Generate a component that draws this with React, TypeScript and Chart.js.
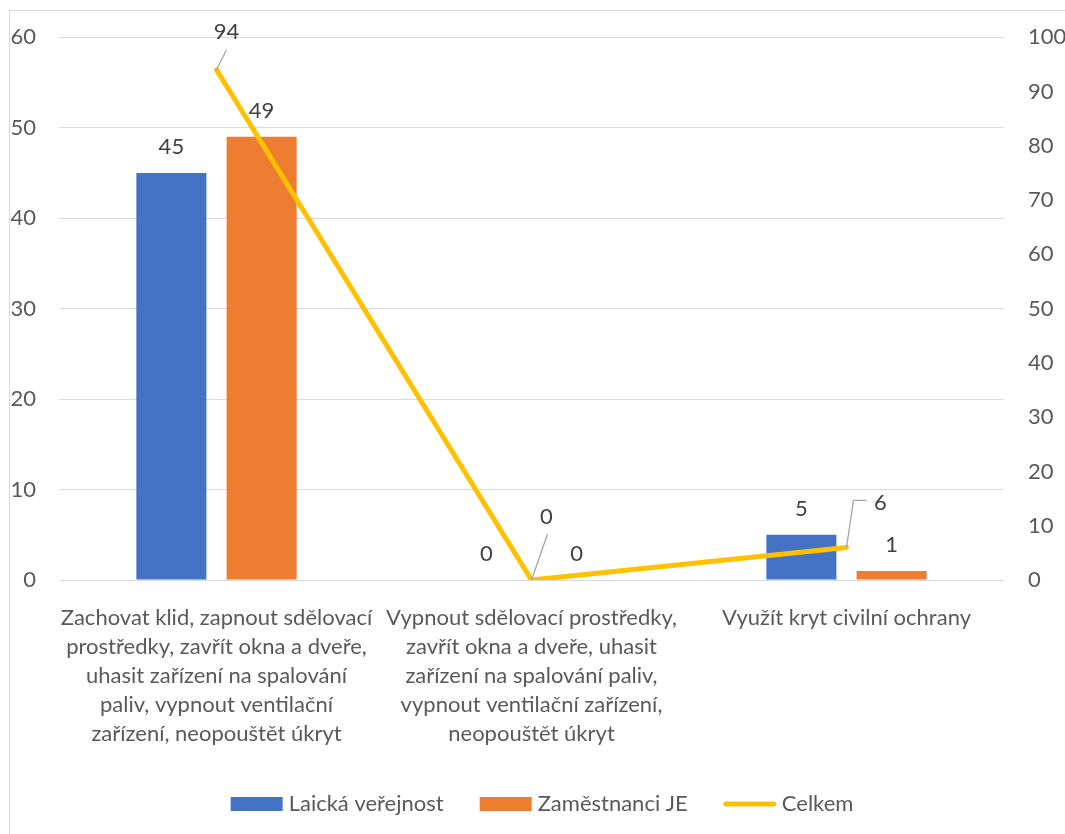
import React, { useEffect, useRef } from "react";
import { Chart, registerables } from "chart.js";

Chart.register(...registerables);

// Category labels (pre-wrapped lines)
const categories: string[][] = [
  [
    "Zachovat klid, zapnout sdělovací",
    "prostředky, zavřít okna a dveře,",
    "uhasit zařízení na spalování",
    "paliv, vypnout ventilační",
    "zařízení, neopouštět úkryt",
  ],
  [
    "Vypnout sdělovací prostředky,",
    "zavřít okna a dveře, uhasit",
    "zařízení na spalování paliv,",
    "vypnout ventilační zařízení,",
    "neopouštět úkryt",
  ],
  ["Využít kryt civilní ochrany"],
];

// Series values
const laickaVerejnost = [45, 0, 5];
const zamestnanciJE = [49, 0, 1];
const celkem = [94, 0, 6];

// Axis ranges
const leftAxisMax = 60;
const rightAxisMax = 100;
const axisStep = 10;

const FONT = "Lato";
const TEXT = "#595959";
const LABEL_TEXT = "#404040";
const GRID = "#d9d9d9";

// Callout placement for the line's value labels (offsets from the point)
const lineCallouts = [
  { dx: 10, dy: -38, leader: [[10, -20]] },
  { dx: 15, dy: -63, leader: [[16, -46]] },
  { dx: 34, dy: -45, leader: [[7, -47], [20, -47]] },
];

const framePlugin = {
  id: "frame",
  beforeDraw(chart: any) {
    const ctx = chart.ctx;
    ctx.save();
    ctx.strokeStyle = GRID;
    ctx.lineWidth = 1;
    ctx.strokeRect(9.5, 10.5, 2000, 2000);
    ctx.restore();
  },
};

const valueLabelsPlugin = {
  id: "valueLabels",
  afterDatasetsDraw(chart: any) {
    const ctx = chart.ctx;
    ctx.save();
    ctx.font = `22px ${FONT}`;
    ctx.textAlign = "center";
    ctx.textBaseline = "middle";
    chart.data.datasets.forEach((ds: any, di: number) => {
      const meta = chart.getDatasetMeta(di);
      meta.data.forEach((el: any, i: number) => {
        const v = ds.data[i];
        if (meta.type === "bar") {
          ctx.fillStyle = LABEL_TEXT;
          ctx.fillText(String(v), el.x, el.y - 26);
        } else {
          const c = lineCallouts[i];
          ctx.strokeStyle = "#a6a6a6";
          ctx.lineWidth = 1.3;
          ctx.beginPath();
          ctx.moveTo(el.x, el.y);
          c.leader.forEach(([dx, dy]) => ctx.lineTo(el.x + dx, el.y + dy));
          ctx.stroke();
          ctx.fillStyle = LABEL_TEXT;
          ctx.fillText(String(v), el.x + c.dx, el.y + c.dy);
        }
      });
    });
    ctx.restore();
  },
};

const legendPlugin = {
  id: "bottomLegend",
  afterDraw(chart: any) {
    const ctx = chart.ctx;
    ctx.save();
    ctx.font = `22px ${FONT}`;
    ctx.textBaseline = "middle";
    ctx.textAlign = "left";
    const swatch = 52;
    const gap = 6;
    const spacing = 36;
    const items = chart.data.datasets.map((ds: any) => ({
      label: ds.label as string,
      line: ds.type === "line",
      color: ds.type === "line" ? ds.borderColor : ds.backgroundColor,
    }));
    const widths = items.map((it: any) => swatch + gap + ctx.measureText(it.label).width);
    const total = widths.reduce((a: number, b: number) => a + b, 0) + spacing * (items.length - 1);
    const cx = 542;
    const cy = 804;
    let x = cx - total / 2;
    items.forEach((it: any, i: number) => {
      if (it.line) {
        ctx.strokeStyle = it.color;
        ctx.lineWidth = 5;
        ctx.lineCap = "round";
        ctx.beginPath();
        ctx.moveTo(x + 2, cy);
        ctx.lineTo(x + swatch - 2, cy);
        ctx.stroke();
      } else {
        ctx.fillStyle = it.color;
        ctx.fillRect(x, cy - 7, swatch, 14);
      }
      ctx.fillStyle = TEXT;
      ctx.fillText(it.label, x + swatch + gap, cy);
      x += widths[i] + spacing;
    });
    ctx.restore();
  },
};

export default function App() {
  const canvasRef = useRef<HTMLCanvasElement | null>(null);

  useEffect(() => {
    const canvas = canvasRef.current;
    if (!canvas) return;
    const chart = new Chart(canvas, {
      type: "bar",
      data: {
        labels: categories as any,
        datasets: [
          {
            type: "bar",
            label: "Laická veřejnost",
            data: laickaVerejnost,
            backgroundColor: "#4472C4",
            yAxisID: "y",
            order: 1,
            categoryPercentage: 0.573,
            barPercentage: 0.776,
          },
          {
            type: "bar",
            label: "Zaměstnanci JE",
            data: zamestnanciJE,
            backgroundColor: "#ED7D31",
            yAxisID: "y",
            order: 1,
            categoryPercentage: 0.573,
            barPercentage: 0.776,
          },
          {
            type: "line",
            label: "Celkem",
            data: celkem,
            borderColor: "#FFC000",
            backgroundColor: "#FFC000",
            borderWidth: 5,
            pointRadius: 0,
            pointHoverRadius: 0,
            tension: 0,
            fill: false,
            borderCapStyle: "round",
            borderJoinStyle: "round",
            yAxisID: "y1",
            order: 0,
          } as any,
        ],
      },
      options: {
        responsive: false,
        animation: false,
        events: [],
        layout: { padding: { top: 35, bottom: 60, left: 0, right: 0 } },
        plugins: {
          legend: { display: false },
          tooltip: { enabled: false },
        },
        scales: {
          x: {
            grid: { display: false },
            border: { display: true, color: GRID },
            ticks: {
              autoSkip: false,
              maxRotation: 0,
              minRotation: 0,
              padding: 15,
              color: TEXT,
              font: { family: FONT, size: 22, lineHeight: 29 / 22 },
            },
            afterFit(scale: any) {
              scale.height = 194;
            },
          },
          y: {
            position: "left",
            min: 0,
            max: leftAxisMax,
            ticks: {
              stepSize: axisStep,
              padding: 23,
              color: TEXT,
              font: { family: FONT, size: 22 },
            },
            grid: { color: GRID, lineWidth: 1, drawTicks: false },
            border: { display: false },
            afterFit(scale: any) {
              scale.width = 59;
            },
          },
          y1: {
            position: "right",
            min: 0,
            max: rightAxisMax,
            ticks: {
              stepSize: axisStep,
              padding: 24,
              color: TEXT,
              font: { family: FONT, size: 22 },
            },
            grid: { display: false, drawTicks: false },
            border: { display: false },
            afterFit(scale: any) {
              scale.width = 61;
            },
          },
        },
      },
      plugins: [framePlugin, valueLabelsPlugin, legendPlugin],
    });
    return () => chart.destroy();
  }, []);

  return (
    <div style={{ position: "absolute", left: 0, top: 0, width: 1065, height: 834, overflow: "hidden", background: "#fff" }}>
      <canvas ref={canvasRef} width={1065} height={834} style={{ display: "block" }} />
    </div>
  );
}
